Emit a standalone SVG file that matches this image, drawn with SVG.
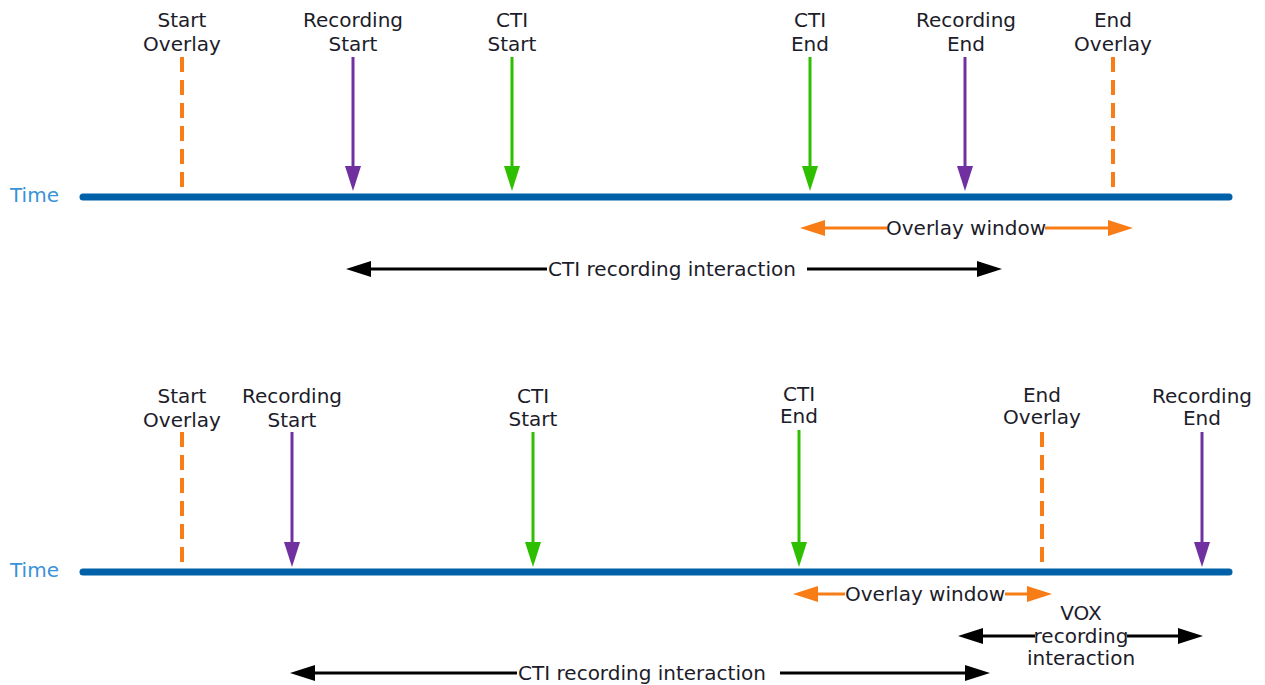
<svg xmlns="http://www.w3.org/2000/svg" width="1265" height="685" viewBox="0 0 1265 685">
<style>
.lbl{font-family:"DejaVu Sans","Liberation Sans",sans-serif;font-size:20px;fill:#1c1c2a;text-anchor:middle}
.time{font-family:"DejaVu Sans","Liberation Sans",sans-serif;font-size:20px;fill:#3a92d8}
.tl{stroke:#0060a8;stroke-width:7;stroke-linecap:round}
.dash{stroke:#f97d16;stroke-width:4;stroke-dasharray:15 8}
.pur{stroke:#7030a0;stroke-width:3}
.grn{stroke:#2ec000;stroke-width:3}
.org{stroke:#f97d16;stroke-width:3;fill:none}
.blk{stroke:#000;stroke-width:3;fill:none}
.hp{fill:#7030a0}
.hg{fill:#2ec000}
</style>
<defs>
<marker id="ao" markerUnits="userSpaceOnUse" markerWidth="26" markerHeight="18" refX="0" refY="8" orient="auto-start-reverse"><path d="M0,0 L25,8 L0,16 Z" fill="#f97d16"/></marker>
<marker id="ak" markerUnits="userSpaceOnUse" markerWidth="26" markerHeight="18" refX="0" refY="8" orient="auto-start-reverse"><path d="M0,0 L25,8 L0,16 Z" fill="#000"/></marker>
</defs>

<g id="timeline-top">
<text class="time" x="10" y="202">Time</text>
<line class="tl" x1="83" y1="197" x2="1229" y2="197"/>
</g>
<g id="top-start-overlay">
<text class="lbl" x="182" y="27">Start</text><text class="lbl" x="182" y="51">Overlay</text>
<line class="dash" x1="182" y1="57" x2="182" y2="191"/>
</g>
<g id="top-recording-start">
<text class="lbl" x="353" y="27">Recording</text><text class="lbl" x="353" y="51">Start</text>
<line class="pur" x1="353" y1="57" x2="353" y2="168"/>
<polygon class="hp" points="345,166 361,166 353,191"/>
</g>
<g id="top-cti-start">
<text class="lbl" x="512" y="27">CTI</text><text class="lbl" x="512" y="51">Start</text>
<line class="grn" x1="512" y1="57" x2="512" y2="168"/>
<polygon class="hg" points="504,166 520,166 512,191"/>
</g>
<g id="top-cti-end">
<text class="lbl" x="810" y="27">CTI</text><text class="lbl" x="810" y="51">End</text>
<line class="grn" x1="810" y1="57" x2="810" y2="168"/>
<polygon class="hg" points="802,166 818,166 810,191"/>
</g>
<g id="top-recording-end">
<text class="lbl" x="966" y="27">Recording</text><text class="lbl" x="966" y="51">End</text>
<line class="pur" x1="965" y1="57" x2="965" y2="168"/>
<polygon class="hp" points="957,166 973,166 965,191"/>
</g>
<g id="top-end-overlay">
<text class="lbl" x="1113" y="27">End</text><text class="lbl" x="1113" y="51">Overlay</text>
<line class="dash" x1="1113" y1="57" x2="1113" y2="191"/>
</g>

<g id="timeline-bottom">
<text class="time" x="10" y="577">Time</text>
<line class="tl" x1="83" y1="572" x2="1229" y2="572"/>
</g>
<g id="bot-start-overlay">
<text class="lbl" x="182" y="403">Start</text><text class="lbl" x="182" y="427">Overlay</text>
<line class="dash" x1="182" y1="432" x2="182" y2="567"/>
</g>
<g id="bot-recording-start">
<text class="lbl" x="292" y="403">Recording</text><text class="lbl" x="292" y="427">Start</text>
<line class="pur" x1="292" y1="432" x2="292" y2="544"/>
<polygon class="hp" points="284,542 300,542 292,567"/>
</g>
<g id="bot-cti-start">
<text class="lbl" x="533" y="403">CTI</text><text class="lbl" x="533" y="426">Start</text>
<line class="grn" x1="533" y1="432" x2="533" y2="544"/>
<polygon class="hg" points="525,542 541,542 533,567"/>
</g>
<g id="bot-cti-end">
<text class="lbl" x="799" y="401">CTI</text><text class="lbl" x="799" y="423">End</text>
<line class="grn" x1="799" y1="430" x2="799" y2="544"/>
<polygon class="hg" points="791,542 807,542 799,567"/>
</g>
<g id="bot-end-overlay">
<text class="lbl" x="1042" y="402">End</text><text class="lbl" x="1042" y="424">Overlay</text>
<line class="dash" x1="1042" y1="432" x2="1042" y2="567"/>
</g>
<g id="bot-recording-end">
<text class="lbl" x="1202" y="403">Recording</text><text class="lbl" x="1202" y="425">End</text>
<line class="pur" x1="1202" y1="432" x2="1202" y2="544"/>
<polygon class="hp" points="1194,542 1210,542 1202,567"/>
</g>

<g id="connectors">
<line class="org" x1="825" y1="228" x2="887" y2="228" marker-start="url(#ao)"/>
<line class="org" x1="1045" y1="228" x2="1108" y2="228" marker-end="url(#ao)"/>
<line class="blk" x1="371" y1="269" x2="547" y2="269" marker-start="url(#ak)"/>
<line class="blk" x1="807" y1="269" x2="977" y2="269" marker-end="url(#ak)"/>
<line class="org" x1="818" y1="594" x2="845" y2="594" marker-start="url(#ao)"/>
<line class="org" x1="1005" y1="594" x2="1027" y2="594" marker-end="url(#ao)"/>
<line class="blk" x1="983" y1="636" x2="1035" y2="636" marker-start="url(#ak)"/>
<line class="blk" x1="1127" y1="636" x2="1178" y2="636" marker-end="url(#ak)"/>
<line class="blk" x1="315" y1="673" x2="517" y2="673" marker-start="url(#ak)"/>
<line class="blk" x1="780" y1="673" x2="965" y2="673" marker-end="url(#ak)"/>
</g>
<g id="connector-labels">
<text class="lbl" x="966" y="235">Overlay window</text>
<text class="lbl" x="672" y="276">CTI recording interaction</text>
<text class="lbl" x="925" y="601">Overlay window</text>
<text class="lbl" x="1081" y="620">VOX</text>
<text class="lbl" x="1081" y="643">recording</text>
<text class="lbl" x="1081" y="665">interaction</text>
<text class="lbl" x="642" y="680">CTI recording interaction</text>
</g>
</svg>
